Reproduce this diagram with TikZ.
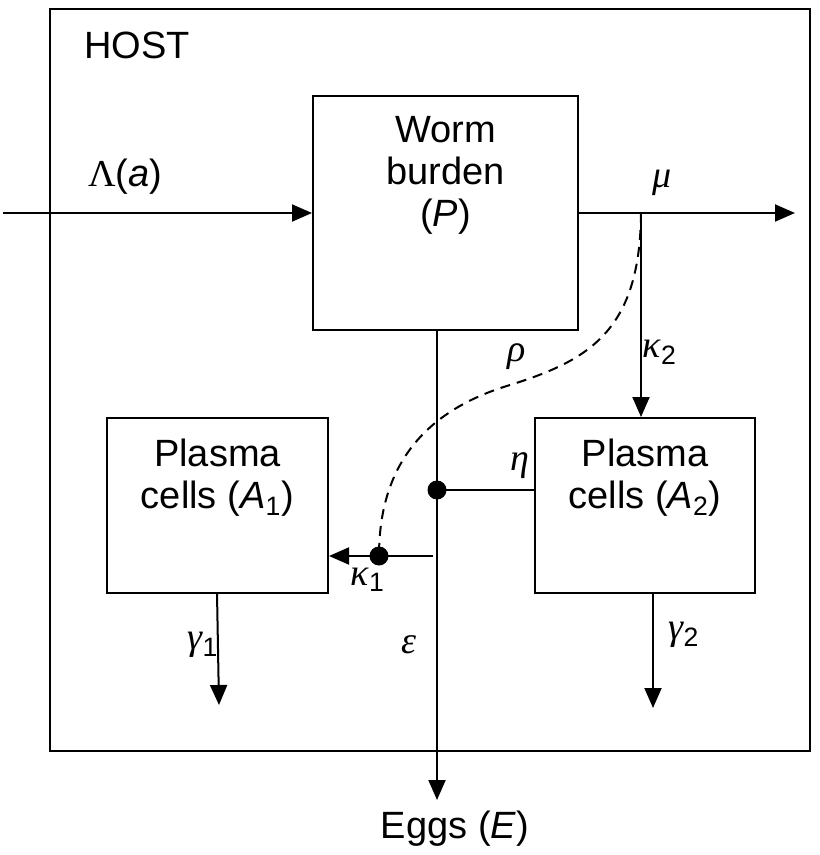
\documentclass[tikz,border=0pt]{standalone}
\usepackage{fontspec}
\setmainfont{Liberation Sans}
\newfontfamily\gk{Liberation Serif}
\usetikzlibrary{arrows.meta}
\newcommand{\gi}[1]{{\gk\itshape #1}}
\begin{document}
\begin{tikzpicture}[x=0.5pt,y=-0.5pt,
  every node/.style={font=\fontsize{19pt}{21pt}\selectfont},
  box/.style={draw,line width=1pt,inner sep=0pt},
  ln/.style={line width=1pt},
  arr/.style={line width=1pt,-{Triangle[length=10pt,width=8.5pt]}},
  dotnode/.style={circle,fill=black,inner sep=0pt,minimum size=9.5pt},
  txt/.style={inner sep=0pt,align=center}]
\useasboundingbox (0,0) rectangle (819,855);
% host
\node[box,minimum width=380pt,minimum height=371pt] (host) at (430,380) {};
\node[txt,anchor=west] (hostl) at (84,45) {HOST};
% boxes
\node[box,minimum width=132.5pt,minimum height=117pt] (worm) at (445.5,213) {};
\node[txt] (wormt) at (445.5,175) {Worm\\burden\\(\textit{P})};
\node[box,minimum width=110.5pt,minimum height=87.5pt] (a1) at (217.5,505.5) {};
\node[txt] (a1t) at (217.5,478) {Plasma\\cells (\textit{A}\textsubscript{1})};
\node[box,minimum width=110pt,minimum height=87.5pt] (a2) at (645,505.5) {};
\node[txt] (a2t) at (645,478) {Plasma\\cells (\textit{A}\textsubscript{2})};
% coordinates
\coordinate (in) at (3,213);
\coordinate (out) at (795,213);
\coordinate (br) at (641,213);
\coordinate (wx) at (437,330);
\coordinate (etip) at (437,800);
\coordinate (k1s) at (433,556);
\coordinate (g1s) at (217,593);
\coordinate (g1e) at (219,705);
\coordinate (g2s) at (653,593);
\coordinate (g2e) at (653,708);
\node[dotnode] (d1) at (437,490) {};
\node[dotnode] (d2) at (379,556) {};
% connectors
\draw[arr] (in) -- (worm.west);
\draw[arr] (worm.east) -- (out);
\draw[arr] (br) -- (br |- a2.north);
\draw[arr] (wx) -- (etip);
\draw[ln] (d1.center) -- (d1 -| a2.west);
\draw[arr] (k1s) -- (k1s -| a1.east);
\draw[ln,dashed,dash pattern=on 5pt off 3.5pt] (br) .. controls (640,330) and (590,360) .. (510,385)
   .. controls (420,412) and (379,470) .. (d2.center);
\draw[arr] (g1s) -- (g1e);
\draw[arr] (g2s) -- (g2e);
% labels
\node[txt] (eggs) at (455,829) {Eggs (\textit{E})};
\node[txt] (lam) at (125,177) {{\gk Λ}(\textit{a})};
\node[txt] (mu) at (662,183) {\gi{μ}};
\node[txt] (k2) at (660,352) {\gi{κ}\textsubscript{2}};
\node[txt] (rho) at (517,357) {\gi{ρ}};
\node[txt] (eta) at (520,466) {\gi{η}};
\node[txt] (k1) at (368,580) {\gi{κ}\textsubscript{1}};
\node[txt] (eps) at (409,645) {\gi{ε}};
\node[txt] (g1) at (203,645) {\gi{γ}\textsubscript{1}};
\node[txt] (g2) at (684,635) {\gi{γ}\textsubscript{2}};
\end{tikzpicture}
\end{document}
